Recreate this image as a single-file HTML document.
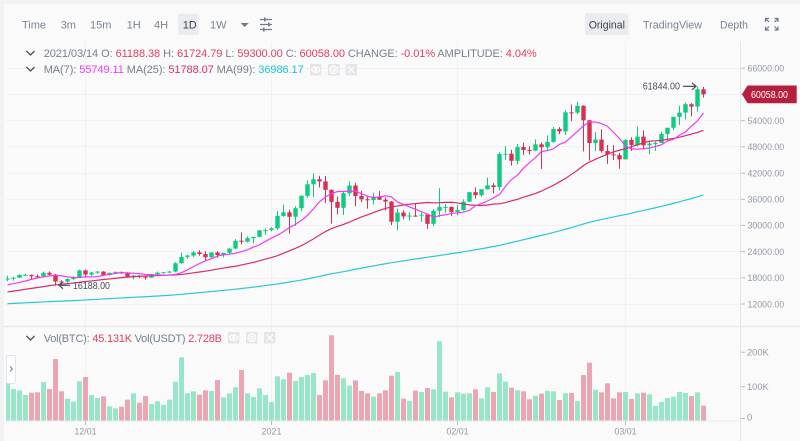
<!DOCTYPE html>
<html><head><meta charset="utf-8"><style>
html,body{margin:0;padding:0;width:800px;height:441px;overflow:hidden;background:#f1f2f4}
svg{display:block;font-family:"Liberation Sans",sans-serif}
</style></head><body>
<svg id="s" width="800" height="441" viewBox="0 0 800 441" xmlns="http://www.w3.org/2000/svg">
<defs>
<clipPath id="cm"><rect x="6" y="40" width="734" height="286"/></clipPath>
<clipPath id="cv"><rect x="6" y="327" width="734" height="94"/></clipPath>
</defs>
<rect x="0" y="0" width="800" height="441" fill="#f1f2f4"/>
<rect x="4" y="4" width="796" height="437" fill="#fafafa"/>

<!-- grid -->
<g stroke="#f0f1f2" stroke-width="1">
<path d="M6,68.5H740M6,94.5H740M6,120.5H740M6,146.5H740M6,173.5H740M6,199.5H740M6,225.5H740M6,251.5H740M6,278.5H740M6,304.5H740"/>
<path d="M85.5,42V421M271.5,42V421M457.5,42V421M625.5,42V421"/>
</g>

<!-- toolbar -->
<rect x="178" y="13.7" width="20.7" height="21.3" rx="2" fill="#eaecef"/>
<rect x="585" y="13.3" width="43.7" height="21.7" rx="2" fill="#eaecef"/>
<g font-size="11" fill="#7a8391">
<text x="22" y="28.4">Time</text>
<text x="60.7" y="28.4">3m</text>
<text x="90" y="28.4">15m</text>
<text x="126.7" y="28.4">1H</text>
<text x="154" y="28.4">4H</text>
<text x="182.7" y="28.4" fill="#3c424c">1D</text>
<text x="210" y="28.4">1W</text>
<text x="588.7" y="28.4" fill="#3c424c" textLength="36.3" lengthAdjust="spacingAndGlyphs">Original</text>
<text x="643" y="28.4" textLength="59" lengthAdjust="spacingAndGlyphs">TradingView</text>
<text x="720" y="28.4" textLength="28" lengthAdjust="spacingAndGlyphs">Depth</text>
</g>
<polygon points="240.7,23 248.7,23 244.7,27" fill="#707a8a"/>
<g stroke="#707a8a" stroke-width="1.2" fill="none">
<path d="M260,19.5H272M260,24.5H272M260,29.5H272"/>
</g>
<g fill="#707a8a">
<rect x="264" y="17.5" width="1.6" height="4"/>
<rect x="268" y="22.5" width="1.6" height="4"/>
<rect x="263" y="27.5" width="1.6" height="4"/>
</g>
<g stroke="#707a8a" stroke-width="1.2" fill="none">
<path d="M765.5,22V18.5H769M765.5,18.5L769,22M774.5,18.5H778V22M778,18.5L774.5,22M765.5,26.5V30H769M765.5,30L769,26.5M774.5,30H778V26.5M778,30L774.5,26.5"/>
</g>

<!-- info lines -->
<g stroke="#474d57" stroke-width="1.3" fill="none">
<polyline points="26.5,51 30.5,55 34.5,51"/>
<polyline points="26.5,67 30.5,71 34.5,67"/>
<polyline points="26.5,336 30.5,340 34.5,336"/>
</g>
<text x="43.7" y="57.2" font-size="11" fill="#76808f" textLength="493" lengthAdjust="spacing">2021/03/14 O: <tspan fill="#e0405f">61188.38</tspan> H: <tspan fill="#e0405f">61724.79</tspan> L: <tspan fill="#e0405f">59300.00</tspan> C: <tspan fill="#e0405f">60058.00</tspan> CHANGE: <tspan fill="#e0405f">-0.01%</tspan> AMPLITUDE: <tspan fill="#e0405f">4.04%</tspan></text>
<text x="43.7" y="72.9" font-size="11" fill="#76808f" textLength="260" lengthAdjust="spacing">MA(7): <tspan fill="#ee3cf0">55749.11</tspan> MA(25): <tspan fill="#d92e6c">51788.07</tspan> MA(99): <tspan fill="#1fc5d0">36986.17</tspan></text>
<text x="43.7" y="341.9" font-size="11" fill="#76808f" textLength="178.3" lengthAdjust="spacing">Vol(BTC): <tspan fill="#e0405f">45.131K</tspan> Vol(USDT) <tspan fill="#e0405f">2.728B</tspan></text>

<!-- small icon boxes -->
<g fill="#e4e6e9">
<rect x="310" y="64" width="11.5" height="11.5"/>
<rect x="328" y="64" width="11.5" height="11.5"/>
<rect x="345.5" y="64" width="11.5" height="11.5"/>
<rect x="228" y="332" width="11.5" height="11.5"/>
<rect x="246" y="332" width="11.5" height="11.5"/>
<rect x="264" y="332" width="11.5" height="11.5"/>
</g>
<g stroke="#fff" stroke-width="1.2" fill="none">
<ellipse cx="315.75" cy="69.75" rx="4" ry="2.6"/><circle cx="315.75" cy="69.75" r="1" fill="#fff"/>
<circle cx="333.75" cy="69.75" r="3.8"/><circle cx="333.75" cy="69.75" r="1.6"/>
<path d="M348,66.5L354.5,73M354.5,66.5L348,73"/>
<ellipse cx="233.75" cy="337.75" rx="4" ry="2.6"/><circle cx="233.75" cy="337.75" r="1" fill="#fff"/>
<circle cx="251.75" cy="337.75" r="3.8"/><circle cx="251.75" cy="337.75" r="1.6"/>
<path d="M266.5,334.5L273,341M273,334.5L266.5,341"/>
</g>

<!-- axes lines -->
<path d="M740.5,42V441" stroke="#e4e6e9" stroke-width="1"/>
<path d="M4,326.5H800" stroke="#e8eaed" stroke-width="1.6"/>
<path d="M6,421H740" stroke="#eaecef" stroke-width="1"/>

<!-- price axis -->
<g stroke="#b7bdc6" stroke-width="1">
<path d="M741,68.3H745M741,94.5H745M741,120.7H745M741,146.9H745M741,173.1H745M741,199.2H745M741,225.4H745M741,251.6H745M741,277.8H745M741,304H745"/>
<path d="M741,352.3H745M741,386.7H745M741,418.5H745"/>
<path d="M85.5,421V425M271.5,421V425M457.5,421V425M625.5,421V425"/>
</g>
<g font-size="9.5" fill="#929aa5">
<text x="747.5" y="71.6" textLength="36.7" lengthAdjust="spacingAndGlyphs">66000.00</text>
<text x="747.5" y="123.9" textLength="36.7" lengthAdjust="spacingAndGlyphs">54000.00</text>
<text x="747.5" y="150.2" textLength="36.7" lengthAdjust="spacingAndGlyphs">48000.00</text>
<text x="747.5" y="176.4" textLength="36.7" lengthAdjust="spacingAndGlyphs">42000.00</text>
<text x="747.5" y="202.5" textLength="36.7" lengthAdjust="spacingAndGlyphs">36000.00</text>
<text x="747.5" y="228.7" textLength="36.7" lengthAdjust="spacingAndGlyphs">30000.00</text>
<text x="747.5" y="254.9" textLength="36.7" lengthAdjust="spacingAndGlyphs">24000.00</text>
<text x="747.5" y="281.1" textLength="36.7" lengthAdjust="spacingAndGlyphs">18000.00</text>
<text x="747.5" y="307.3" textLength="36.7" lengthAdjust="spacingAndGlyphs">12000.00</text>
<text x="747" y="355.6" textLength="21.7" lengthAdjust="spacingAndGlyphs">200K</text>
<text x="747" y="390" textLength="21.7" lengthAdjust="spacingAndGlyphs">100K</text>
<text x="747" y="420.3">0</text>
<text x="85.5" y="434.5" text-anchor="middle" textLength="22" lengthAdjust="spacingAndGlyphs">12/01</text>
<text x="271.5" y="434.5" text-anchor="middle" textLength="20" lengthAdjust="spacingAndGlyphs">2021</text>
<text x="457.5" y="434.5" text-anchor="middle" textLength="22" lengthAdjust="spacingAndGlyphs">02/01</text>
<text x="625.5" y="434.5" text-anchor="middle" textLength="22" lengthAdjust="spacingAndGlyphs">03/01</text>
</g>

<!-- series -->
<g id="vol" clip-path="url(#cv)"></g>
<g id="cand" clip-path="url(#cm)"></g>
<g clip-path="url(#cm)" fill="none" stroke-width="1.2">
<path id="ma99" stroke="#2cc8d0"/>
<path id="ma25" stroke="#d62d6e"/>
<path id="ma7" stroke="#ee3cf0"/>
</g>

<!-- current price -->
<path d="M742,94.3L747.5,85.5H796.7V103.2H747.5Z" fill="#b51f3d"/>
<text x="751" y="97.8" font-size="10" fill="#ffffff" textLength="37" lengthAdjust="spacingAndGlyphs">60058.00</text>

<!-- hi / lo annotations -->
<text x="642.7" y="89.6" font-size="10" fill="#474d57" textLength="37.3" lengthAdjust="spacingAndGlyphs">61844.00</text>
<g stroke="#474d57" stroke-width="1.2" fill="none">
<path d="M683,86.3H696"/><polyline points="692,82.8 696,86.3 692,89.8"/>
<path d="M59,285.3H70"/><polyline points="63,281.8 59,285.3 63,288.8"/>
</g>
<text x="73" y="288.8" font-size="10" fill="#474d57" textLength="37" lengthAdjust="spacingAndGlyphs">16188.00</text>

<!-- side toggle -->
<rect x="6.5" y="355.5" width="9" height="28" rx="2" fill="#ffffff" stroke="#e0e3e7"/>
<polyline points="10,366.5 12.3,369 10,371.5" fill="none" stroke="#707a8a" stroke-width="1"/>
</svg>
<script>
const P=[11383,11565,11780,11768,11865,11911,12281,11945,11754,11853,11531,11662,11649,11751,11328,11461,11330,11527,11465,11711,11650,
11924,11388,10141,10467,10169,10255,10373,10127,10222,10346,10393,10443,10328,10681,10786,10954,10940,10933,11080,10920,10417,10529,10241,10736,10686,10728,10774,10696,10841,10776,
10619,10570,10542,10666,10792,10599,10666,10925,11050,11296,11370,11529,11419,11429,11503,11320,11360,11495,11751,11910,12780,12968,12923,13111,13028,13064,13637,13266,13455,13560,13792,
13761,13550,14023,14145,15590,15580,14833,15479,15332,15290,15701,16276,16317,16068,15957,16713,17659];
const D=[[17777,18476,17214,17817],[17817,18179,17335,18036],[18036,18815,17995,18660],[18660,18965,18450,18683],[18683,18750,17610,18371],[18371,18773,18000,18366],[18366,19418,18019,19157],[19157,19484,18565,18723],[18723,18915,16188,17154],[17154,17457,16438,17139],[17139,17880,16865,17719],[17719,18344,17517,18184],[18184,19863,18184,19695],
[19695,19888,18001,18765],[18765,19342,18330,19205],[19205,19566,18925,19422],[19422,19527,18565,18650],[18650,19177,18500,19148],[19148,19420,18857,19359],[19359,19420,18902,19166],[19166,19294,18200,18324],[18324,18639,17650,18541],[18541,18557,17911,18254],[18254,18292,17572,18036],[18036,18948,18020,18808],[18808,19411,18711,19175],[19175,19349,19000,19273],[19273,19570,19050,19426],[19426,21560,19278,21335],[21335,23800,21230,22797],[22797,23285,22350,23107],[23107,24171,22750,23821],[23821,24295,23060,23455],[23455,24102,21815,22719],[22719,23837,22353,23810],[23810,24100,22600,23232],[23232,23794,22703,23729],[23729,24789,23433,24712],[24712,26867,24500,26493],[26493,28422,25700,26281],[26281,27500,26101,27079],[27079,27400,25880,27385],[27385,28996,27320,28876],[28876,29300,27850,28923],
[28923,29600,28624,29331],[29331,33300,28946,32178],[32176,34778,31962,33000],[33000,33600,28130,31988],[31989,34360,29900,33949],[33949,36939,33288,36769],[36769,40365,36300,39432],[39432,41950,36500,40582],[40586,41380,38720,40088],[40088,41350,35111,38150],[38150,38264,30420,35404],[35410,36628,32531,34051],[34049,37850,32380,37371],[37371,40100,36701,39144],[39145,39747,34408,36742],[36737,37950,35357,35994],[35994,36852,33850,35828],[35824,37469,34800,36631],[36622,37850,35844,35891],[35901,36415,33400,35468],[35468,35600,30071,30850],[30852,33826,28850,32945],[32950,33456,31390,32078],[32078,32944,31106,32259],[32259,34875,32000,32254],[32251,32921,30837,32467],[32464,32557,29241,30366],[30362,33783,29842,33364],[33368,38531,31915,34252],[34246,34933,32825,34262],[34262,34342,32171,33092],
[33092,34717,32296,33526],[33518,35984,33418,35466],[35466,37662,35362,37618],[37619,38708,36161,36936],[36936,38310,36570,38290],[38289,40955,38215,39186],[39181,39700,37351,38795],[38795,46794,37988,46374],[46374,48142,45020,46420],[46421,47310,43727,44807],[44807,48678,43994,47969],[47969,48985,46125,47287],[47298,48150,46202,47153],[47156,49707,47014,48577],[48580,49010,42960,47911],[47911,50620,47000,49133],[49133,52618,48947,52119],[52117,52530,50901,51552],[51552,56368,50710,55906],[55906,57700,53863,55842],[55841,58352,55477,57408],[57413,57533,46948,54087],[54088,54183,44893,48891],[48891,51375,47003,49676],[49677,52041,46674,47073],[47074,48424,44106,46276],[46277,48394,45000,46106],[46103,46638,43000,45135],
[45134,49790,45115,49587],[49595,50200,47047,48440],[48436,52640,48100,50349],[50349,51773,47500,48374],[48374,49448,46300,48751],[48746,49200,47070,48882],[48882,51450,48882,50971],[50959,52402,49274,52375],[52375,54895,51845,54884],[54874,57387,53005,55851],[55851,58150,54269,57773],[57773,58081,54962,57221],[57221,61844,56078,61188],[61188,61724,59300,60058]];
const V=[158,177,181,195,188,187,156,177,87,184,206,215,154,141,195,204,199,229,235,230,209,190,218,198,222,214,224,209,155,82,190,184,194,181,183,150,202,190,172,120,190,201,175,195,216,139,148,128,153,141,135,129,195,151,16,135,145,167,151,183,190,200,190,181,137,126,206,213,182,186,174,178,34,185,202,187,191,190,178,205,172,186,130,155,173,181,184,208,197,191,182,184,210,190,189,213,135,98,179,187,160,205,187,186,207,190,188,193,228,216,204,200,186,189,198,187,227];
const Y=p=>68.3+(66000-p)*0.004365;
const G='#0ecb81',R='#d9304f';
const C=P.concat(D.map(d=>d[3]));
let cs='',vs='';
D.forEach((d,i)=>{
 const c=7.5+6*i, col=d[3]>=d[0]?G:R;
 const yo=Y(d[0]),yc=Y(d[3]),yh=Y(d[1]),yl=Y(d[2]);
 const t=Math.min(yo,yc),h=Math.max(1,Math.abs(yo-yc));
 cs+='<rect x="'+(c-0.5)+'" y="'+yh.toFixed(2)+'" width="1" height="'+(yl-yh).toFixed(2)+'" fill="'+col+'"/>';
 cs+='<rect x="'+(c-2.2)+'" y="'+t.toFixed(2)+'" width="4.4" height="'+h.toFixed(2)+'" fill="'+col+'"/>';
 const vt=330+V[i]/3;
 vs+='<rect x="'+(c-2.5)+'" y="'+vt.toFixed(2)+'" width="5" height="'+(420.5-vt).toFixed(2)+'" fill="'+col+'" fill-opacity="0.42"/>';
});
document.getElementById('cand').innerHTML=cs;
document.getElementById('vol').innerHTML=vs;
function ma(n){const pts=[];for(let i=0;i<D.length;i++){const g=P.length+i;let s=0;for(let k=g-n;k<g;k++)s+=C[k];pts.push((7.5+6*i)+','+Y(s/n).toFixed(2));}return 'M'+pts.join(' L');}
document.getElementById('ma7').setAttribute('d',ma(7));
document.getElementById('ma25').setAttribute('d',ma(25));
document.getElementById('ma99').setAttribute('d',ma(99));
</script>
</body></html>
